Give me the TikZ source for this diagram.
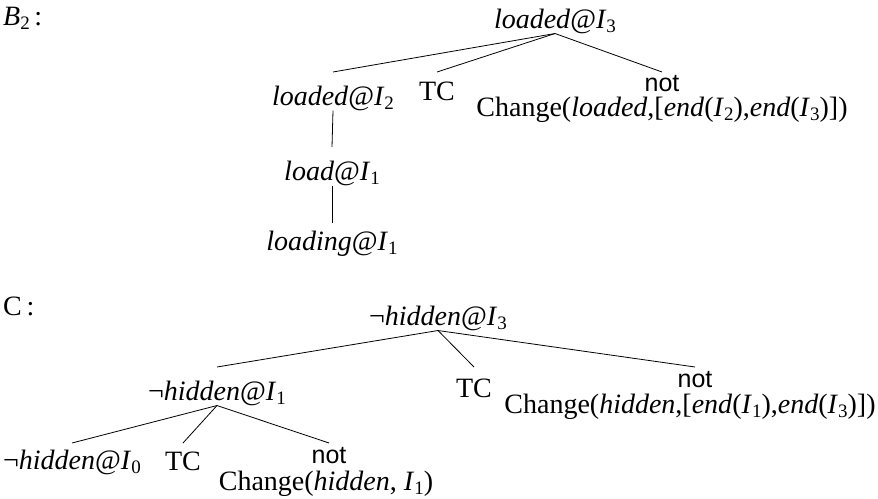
\documentclass[tikz,border=0pt]{standalone}
\usepackage{fontspec}
\setmainfont{Liberation Serif}
\setsansfont{Liberation Sans}
\newcommand\subx[1]{\raisebox{-0.16em}{\fontsize{19}{19}\selectfont #1}}
\newcommand\ati[2]{\textit{#1}@\textit{I}\subx{#2}}
\begin{document}
\begin{tikzpicture}[x=1pt,y=-1pt,
  lab/.style={font=\fontsize{28}{34}\selectfont, inner sep=0pt, anchor=base},
  sans/.style={font=\sffamily\fontsize{25}{30}\selectfont, inner sep=0pt, anchor=base},
  branch/.style={line width=0.8pt}]
\useasboundingbox (0,0) rectangle (878,498);
% ---- B2 tree
\node[lab, anchor=base west] (B) at (3,25) {\textit{B}\subx{2}\,:};
\node[lab] (r1) at (555,28) {\ati{loaded}{3}};
\coordinate (lvA) at (0,72);
\node[lab] (a1) at (333,105) {\ati{loaded}{2}};
\node[lab] (t1) at (437,100) {TC};
\node[sans] (n1) at (662,91) {not};
\node[lab] (c1) at (662,116) {Change(\textit{loaded},[\textit{end}(\textit{I}\subx{2}),\textit{end}(\textit{I}\subx{3})])};
\coordinate (lvA2) at (0,147);
\node[lab] (b1) at (332,180) {\ati{load}{1}};
\coordinate (lvA3) at (0,223);
\node[lab] (d1) at (332,250) {\ati{loading}{1}};
\draw[branch] (r1.south) -- (a1.north |- lvA);
\draw[branch] (r1.south) -- (t1.north |- lvA);
\draw[branch] (r1.south) -- (n1.north |- lvA);
\draw[branch] (a1.south) -- (b1.north |- lvA2);
\draw[branch] (b1.south) -- (d1.north |- lvA3);
% ---- C tree
\node[lab, anchor=base west] (C) at (3,315) {C\,:};
\node[lab] (r2) at (438,325) {¬\ati{hidden}{3}};
\coordinate (lvB) at (0,367);
\node[lab] (a2) at (217,400) {¬\ati{hidden}{1}};
\node[lab] (t2) at (474,397) {TC};
\node[sans] (n2) at (695,387) {not};
\node[lab] (c2) at (690,413) {Change(\textit{hidden},[\textit{end}(\textit{I}\subx{1}),\textit{end}(\textit{I}\subx{3})])};
\coordinate (lvB2) at (0,443);
\node[lab] (d0) at (72,469) {¬\ati{hidden}{0}};
\node[lab] (t3) at (183,470) {TC};
\node[sans] (n3) at (329,463) {not};
\node[lab] (c3) at (326,490) {Change(\textit{hidden}, \textit{I}\subx{1})};
\draw[branch] (r2.south) -- (a2.north |- lvB);
\draw[branch] (r2.south) -- (t2.north |- lvB);
\draw[branch] (r2.south) -- (n2.north |- lvB);
\draw[branch] (a2.south) -- (d0.north |- lvB2);
\draw[branch] (a2.south) -- (t3.north |- lvB2);
\draw[branch] (a2.south) -- (n3.north |- lvB2);
\end{tikzpicture}
\end{document}
